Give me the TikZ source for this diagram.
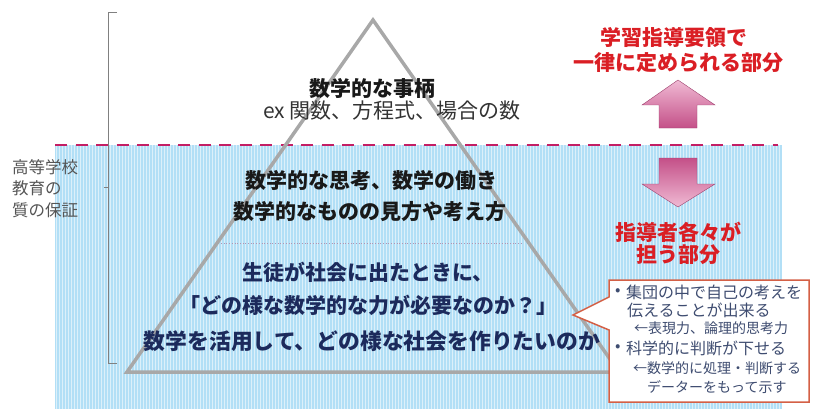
\documentclass[tikz,border=0pt]{standalone}
\usepackage{fontspec}
\newfontfamily\jp{Noto Sans CJK JP}
\definecolor{blueBg}{RGB}{178,223,246}
\definecolor{dashc}{RGB}{196,30,100}
\definecolor{triGray}{RGB}{168,168,168}
\definecolor{navy}{RGB}{28,42,92}
\definecolor{redT}{RGB}{218,30,36}
\definecolor{calloutB}{RGB}{212,96,70}
\definecolor{calloutT}{RGB}{62,76,112}
\definecolor{pinkL}{RGB}{240,186,212}
\definecolor{pinkD}{RGB}{196,80,136}
\definecolor{labelG}{RGB}{85,85,85}
\tikzset{
  bigbold/.style={font=\jp\bfseries\fontsize{21}{25}\selectfont, inner sep=0pt},
  redlabel/.style={bigbold, text=redT},
  navylabel/.style={bigbold, text=navy},
  callmain/.style={font=\jp\fontsize{16}{19}\selectfont, text=calloutT, inner sep=0pt, anchor=west},
  callsub/.style={font=\jp\fontsize{14}{17}\selectfont, text=calloutT, inner sep=0pt, anchor=west},
  sidelabel/.style={font=\jp\fontsize{16.5}{19}\selectfont, text=labelG, inner sep=0pt, anchor=west},
  bigarrow/.style={draw=pinkD!80!black, line width=0.4pt}
}
\begin{document}
\begin{tikzpicture}[x=1pt,y=-1pt]
\useasboundingbox (0,0) rectangle (813,409);
% blue region
\fill[blueBg] (55,145) rectangle (782,409);
\foreach \i in {56,59,...,781} \draw[white, line width=0.8pt, opacity=0.55] (\i,145) -- (\i,409);
% dashed border
\coordinate (dL) at (55,145);
\coordinate (dR) at (778,145);
\draw[dashc, line width=2.6pt, dash pattern=on 12pt off 8.5pt] (dL) -- (dR);
% bracket
\coordinate (bT) at (108,12);
\coordinate (bB) at (108,363);
\coordinate (bM) at (108,187);
\draw[gray, line width=0.9pt] ([xshift=9pt]bT) -- (bT) -- (bB) -- ([xshift=9pt]bB);
\draw[gray, line width=0.9pt] (bM) -- ([xshift=-4pt]bM);
% side label
\node[sidelabel] (s1) at (12,167) {高等学校};
\node[sidelabel] (s2) at (12,188) {教育の};
\node[sidelabel] (s3) at (12,210) {質の保証};
% triangle
\coordinate (apex) at (373,20);
\coordinate (bl) at (127,372);
\coordinate (br) at (619,372);
\draw[triGray, line width=3.5pt, line join=miter] (apex) -- (br) -- (bl) -- cycle;
% inner dotted line
\coordinate (iL) at (221,243);
\coordinate (iR) at (522,243);
\draw[violet!40!gray!60, line width=0.7pt, dotted] (iL) -- (iR);
% triangle texts
\node[bigbold, text=black!90] (t1) at (372,88) {数学的な事柄};
\node[font=\jp\fontsize{21}{24}\selectfont, text=black!80, inner sep=0pt] (t2) at (392,111) {ex 関数、方程式、場合の数};
\node[bigbold, text=black!90] (t3) at (371,180) {数学的な思考、数学の働き};
\node[bigbold, text=black!90] (t4) at (370,212) {数学的なものの見方や考え方};
\node[navylabel] (n1) at (368,272) {生徒が社会に出たときに、};
\node[navylabel] (n2) at (368,305) {「どの様な数学的な力が必要なのか？」};
\node[navylabel, font=\jp\bfseries\fontsize{21.8}{25}\selectfont] (n3) at (372,341) {数学を活用して、どの様な社会を作りたいのか};
% red texts
\node[redlabel] (r1) at (674,38) {学習指導要領で};
\node[redlabel] (r2) at (678,63) {一律に定められる部分};
\node[redlabel] (r3) at (678,232) {指導者各々が};
\node[redlabel] (r4) at (678,255) {担う部分};
% arrows
\shade[bigarrow, top color=pinkL, bottom color=pinkD]
  (678,80) -- (715,105) -- (697,105) -- (697,128) -- (659,128) -- (659,105) -- (642,105) -- cycle;
\shade[bigarrow, top color=pinkD, bottom color=pinkL]
  (659,158) -- (697,158) -- (697,184) -- (715,184) -- (678,207) -- (642,184) -- (659,184) -- cycle;
% callout
\draw[calloutB, fill=white, line width=1.5pt, line join=miter]
  (609,280) -- (809,280) -- (809,402) -- (609,402) -- (609,330) -- (573,315) -- (609,297) -- cycle;
\node[callmain] (c0) at (615,292) {•};
\node[callmain] (c1) at (626,292) {集団の中で自己の考えを};
\node[callmain] (c2) at (627,310) {伝えることが出来る};
\node[callsub] (c3) at (634,328) {←表現力、論理的思考力};
\node[callmain] (c4b) at (615,348) {•};
\node[callmain] (c4) at (626,348) {科学的に判断が下せる};
\node[callsub] (c5) at (633,368) {←数学的に処理・判断する};
\node[callsub] (c6) at (647,387) {データーをもって示す};
\end{tikzpicture}
\end{document}
